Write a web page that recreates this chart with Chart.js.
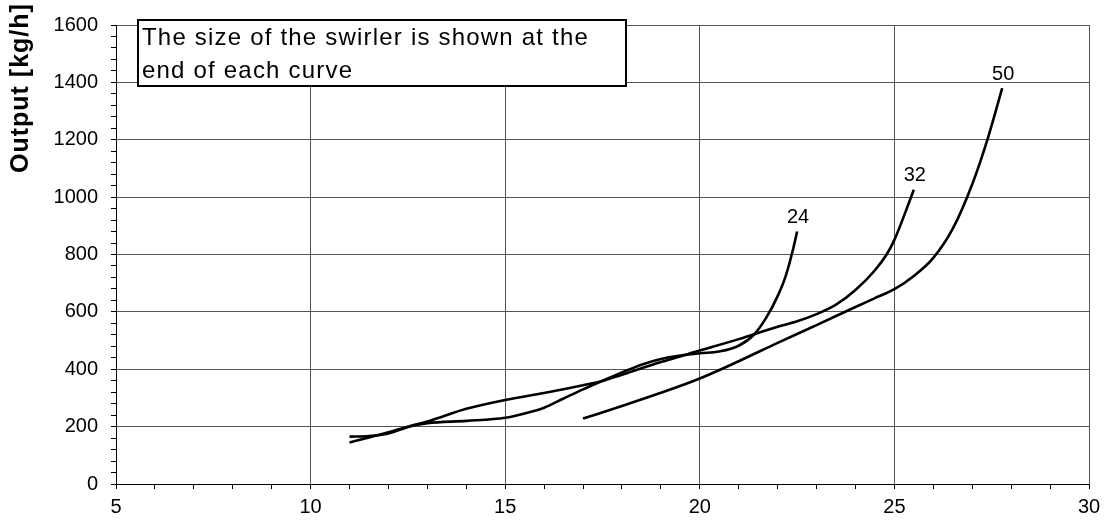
<!DOCTYPE html>
<html>
<head>
<meta charset="utf-8">
<script src="https://cdn.jsdelivr.net/npm/chart.js@4.4.0/dist/chart.umd.min.js"></script>
<style>
  body { margin: 0; background: #fff; }
  #wrap { width: 1109px; height: 523px; position: relative; }
</style>
</head>
<body>
<div id="wrap"><canvas id="swirlerChart"></canvas></div>
<script>
let fontFamily = "'Liberation Sans', Arial, sans-serif";

// swirler size for each curve (shown at the end of the curve)
let sizes = ["24", "32", "50"];

// x value and output [kg/h]
let vel24 = [11, 11.5, 12, 12.6, 13, 14, 15, 15.5, 16, 16.5, 17, 17.5, 18, 18.5, 19, 19.5, 20, 20.5, 21, 21.4, 21.7, 22, 22.2, 22.4, 22.5];
let out24 = [165, 167, 176, 202, 212, 220, 231, 246, 266, 298, 330, 360, 389, 416, 436, 448, 456, 462, 482, 522, 578, 655, 722, 820, 880];

let vel32 = [11, 11.5, 12, 12.6, 13, 14, 15, 16, 17, 17.5, 18, 19, 20, 21, 22, 22.5, 23, 23.5, 24, 24.5, 24.8, 25, 25.5];
let out32 = [145, 162, 180, 204, 218, 262, 293, 317, 344, 359, 381, 425, 465, 505, 548, 567, 592, 625, 676, 745, 800, 851, 1026];

let vel50 = [17, 18, 19, 20, 21, 22, 23, 24, 24.5, 25, 25.5, 26, 26.5, 27, 27.4, 27.77];
let out50 = [228, 272, 318, 368, 428, 492, 554, 617, 648, 679, 725, 788, 890, 1045, 1205, 1380];

let noteLines = ["The size of the swirler is shown at the", "end of each curve"];
let yTitle = "Output [kg/h]";

function toPoints(xs, ys) {
  return xs.map((v, i) => ({ x: v, y: ys[i] }));
}

function curve(label, xs, ys) {
  return {
    label: label,
    data: toPoints(xs, ys),
    borderColor: "#000",
    borderWidth: 2.6,
    pointRadius: 0,
    fill: false,
    cubicInterpolationMode: "monotone",
  };
}

// size numbers above the last point of each curve
let curveLabels = {
  id: "curveLabels",
  afterDatasetsDraw(chart) {
    let ctx = chart.ctx;
    ctx.save();
    ctx.font = "20px " + fontFamily;
    ctx.fillStyle = "#000";
    ctx.textAlign = "center";
    ctx.textBaseline = "middle";
    chart.data.datasets.forEach((ds, i) => {
      let pts = chart.getDatasetMeta(i).data;
      let last = pts[pts.length - 1];
      ctx.fillText(ds.label, last.x + 1, last.y - 14);
    });
    ctx.restore();
  },
};

// the boxed note and the y title
let notes = {
  id: "notes",
  afterDraw(chart) {
    let ctx = chart.ctx;
    ctx.save();
    ctx.fillStyle = "#fff";
    ctx.fillRect(138, 20, 488, 66);
    ctx.strokeStyle = "#000";
    ctx.lineWidth = 2;
    ctx.strokeRect(138, 20, 488, 66);
    ctx.fillStyle = "#000";
    ctx.font = "24px " + fontFamily;
    ctx.letterSpacing = "1.2px";
    ctx.textAlign = "left";
    ctx.textBaseline = "alphabetic";
    ctx.fillText(noteLines[0], 142, 45);
    ctx.fillText(noteLines[1], 142, 78);

    ctx.font = "bold 25px " + fontFamily;
    ctx.letterSpacing = "1px";
    ctx.translate(21.5, 173);
    ctx.rotate(-Math.PI / 2);
    ctx.textBaseline = "middle";
    ctx.fillText(yTitle, 0, 0);
    ctx.restore();
  },
};

let tickFont = { family: fontFamily, size: 20 };

let cfg = {
  type: "line",
  data: {
    datasets: [
      curve(sizes[0], vel24, out24),
      curve(sizes[1], vel32, out32),
      curve(sizes[2], vel50, out50),
    ],
  },
  options: {
    responsive: true,
    maintainAspectRatio: false,
    animation: false,
    layout: {
      autoPadding: false,
      padding: { top: 13, right: 20, left: 0, bottom: 0 },
    },
    plugins: {
      legend: { display: false },
      tooltip: { enabled: false },
    },
    scales: {
      x: {
        type: "linear",
        min: 5,
        max: 30,
        ticks: {
          stepSize: 1,
          autoSkip: false,
          maxRotation: 0,
          padding: 6,
          color: "#000",
          font: tickFont,
          callback: (v) => (v % 5 === 0 ? v : ""),
        },
        grid: {
          color: (c) => (c.tick && c.tick.value % 5 === 0 ? "#555" : "rgba(0,0,0,0)"),
          tickColor: "#000",
          tickLength: 5,
          lineWidth: 1,
        },
        border: { color: "#000", width: 1 },
        afterFit: (s) => { s.height = 39; },
      },
      y: {
        min: 0,
        max: 1600,
        ticks: {
          stepSize: 40,
          autoSkip: false,
          padding: 13,
          color: "#000",
          font: tickFont,
          callback: (v) => (v % 200 === 0 ? v : ""),
        },
        grid: {
          color: (c) => (c.tick && c.tick.value % 200 === 0 ? "#555" : "rgba(0,0,0,0)"),
          tickColor: "#000",
          tickLength: 5,
          lineWidth: 1,
        },
        border: { color: "#000", width: 1 },
        afterFit: (s) => { s.width = 116; },
      },
    },
  },
  plugins: [curveLabels, notes],
};

let swirlerChart = new Chart(document.getElementById("swirlerChart"), cfg);
</script>
</body>
</html>
